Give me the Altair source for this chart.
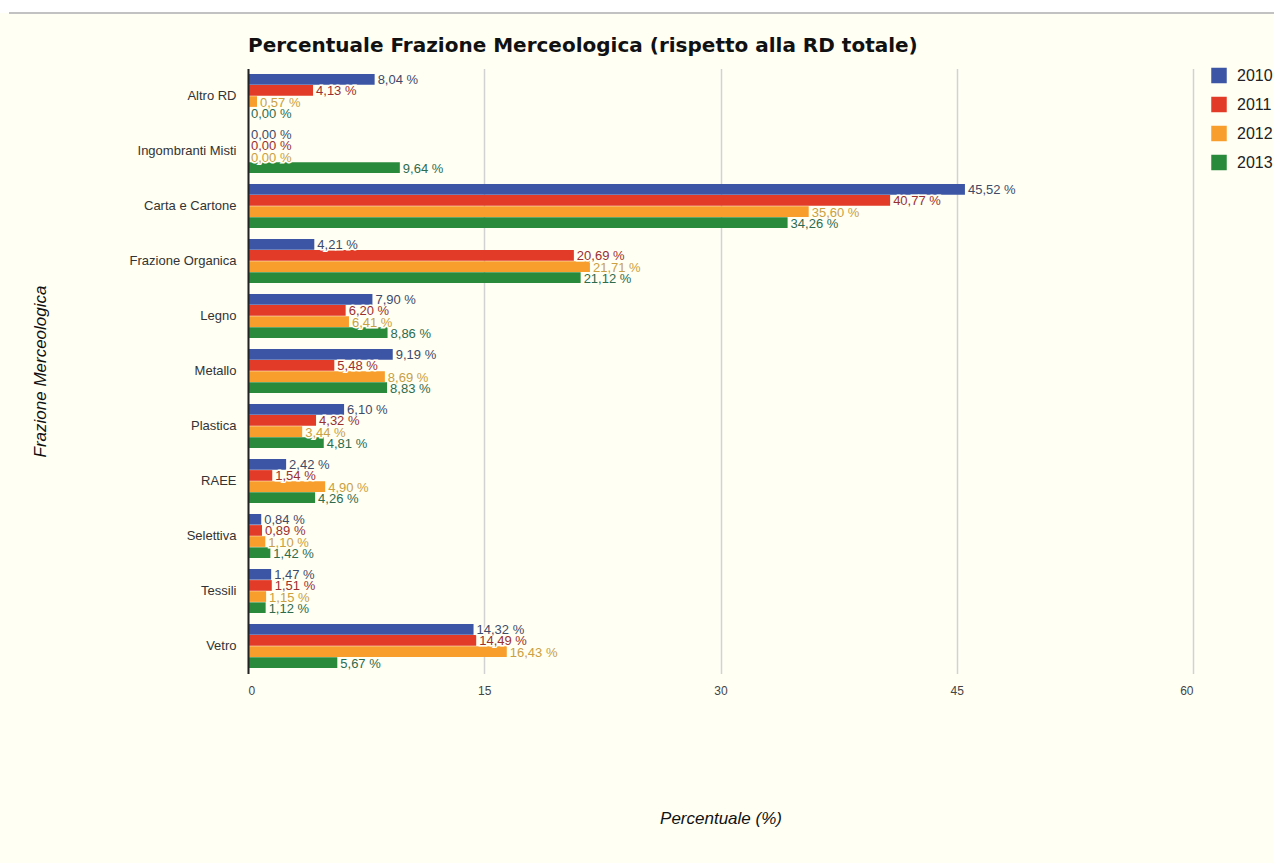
import altair as alt
import pandas as pd

categories = ["Altro RD", "Ingombranti Misti", "Carta e Cartone", "Frazione Organica",
              "Legno", "Metallo", "Plastica", "RAEE", "Selettiva", "Tessili", "Vetro"]
years = ["2010", "2011", "2012", "2013"]
v2010 = [8.04, 0.00, 45.52, 4.21, 7.90, 9.19, 6.10, 2.42, 0.84, 1.47, 14.32]
v2011 = [4.13, 0.00, 40.77, 20.69, 6.20, 5.48, 4.32, 1.54, 0.89, 1.51, 14.49]
v2012 = [0.57, 0.00, 35.60, 21.71, 6.41, 8.69, 3.44, 4.90, 1.10, 1.15, 16.43]
v2013 = [0.00, 9.64, 34.26, 21.12, 8.86, 8.83, 4.81, 4.26, 1.42, 1.12, 5.67]
x_ticks = [0, 15, 30, 45, 60]
title_text = "Percentuale Frazione Merceologica (rispetto alla RD totale)"

bar_colors = ["#3c55a5", "#e23b27", "#f89e2c", "#2a8a3c"]
text_colors = ["#3e4a68", "#9a3030", "#caa042", "#2e6b4c"]
BG = "#fffff4"

rows = []
for yr, vals in zip(years, [v2010, v2011, v2012, v2013]):
    for c, v in zip(categories, vals):
        rows.append({"cat": c, "year": yr, "val": v,
                     "label": f"{v:.2f}".replace(".", ",") + " %"})
df = pd.DataFrame(rows)

W, H = 945, 605
PL, PT = 248, 68.5

y_enc = alt.Y("cat:N", sort=categories,
              scale=alt.Scale(paddingInner=0.2, paddingOuter=0.1),
              axis=alt.Axis(title="Frazione Merceologica", titleFontStyle="italic",
                            titleFont="Liberation Sans", titleFontSize=17,
                            titleFontWeight="normal", titleColor="#111",
                            titleX=-208, titleY=H / 2, titleAngle=-90,
                            titleBaseline="middle", titleAlign="center",
                            labelFont="Liberation Sans", labelFontSize=13,
                            labelColor="#333", labelPadding=12, ticks=False,
                            domainColor="#222", domainWidth=2, grid=False,
                            zindex=1))
yoff = alt.YOffset("year:N", sort=years, scale=alt.Scale(paddingInner=0.04))
x_enc = alt.X("val:Q", scale=alt.Scale(domain=[0, 60], nice=False),
              axis=alt.Axis(values=x_ticks, title="Percentuale (%)",
                            titleFontStyle="italic", titleFont="Liberation Sans",
                            titleFontSize=17, titleFontWeight="normal",
                            titleColor="#111", titleY=145, titleBaseline="middle",
                            labelFont="Liberation Sans", labelFontSize=12,
                            labelColor="#444", labelPadding=12, ticks=False,
                            domain=False, grid=True, gridColor="#d2d2d2",
                            gridWidth=1.5))

base = alt.Chart(df)

bars = base.mark_bar(height={"band": 1}).encode(
    x=x_enc, y=y_enc, yOffset=yoff,
    color=alt.Color("year:N", sort=years,
                    scale=alt.Scale(domain=years, range=bar_colors),
                    legend=alt.Legend(title=None, orient="none", legendX=963,
                                      legendY=-1, symbolType="square",
                                      symbolSize=240, symbolStrokeWidth=0,
                                      labelFont="Liberation Sans",
                                      labelFontSize=16, labelColor="#222",
                                      rowPadding=13, labelOffset=10)),
)

halo = base.mark_text(align="left", baseline="middle", dx=3, dy=1,
                      font="Liberation Sans", fontSize=13, stroke=BG,
                      strokeWidth=3, fill=BG).encode(
    x="val:Q", y=alt.Y("cat:N", sort=categories), yOffset=alt.YOffset("year:N", sort=years),
    text="label:N")

labels = base.mark_text(align="left", baseline="middle", dx=3, dy=1,
                        font="Liberation Sans", fontSize=13).encode(
    x="val:Q", y=alt.Y("cat:N", sort=categories), yOffset=alt.YOffset("year:N", sort=years),
    text="label:N",
    fill=alt.Fill("year:N", sort=years,
                  scale=alt.Scale(domain=years, range=text_colors), legend=None))

blank = alt.Chart(alt.Data(values=[{"t": title_text}]))
top_white = blank.mark_rect(color="white").encode(
    x=alt.value(-PL), x2=alt.value(1274 - PL),
    y=alt.value(-PT), y2=alt.value(13 - PT))
top_line = blank.mark_rule(color="#c2c2c2", strokeWidth=2).encode(
    x=alt.value(9 - PL), x2=alt.value(1274 - PL), y=alt.value(13 - PT))
title = blank.mark_text(align="left", baseline="alphabetic", font="DejaVu Sans",
                        fontSize=20, fontWeight="bold", color="#111").encode(
    x=alt.value(0), y=alt.value(52 - PT), text="t:N")

chart = alt.layer(top_white, top_line, bars, halo, labels, title).resolve_scale(
    color="independent", fill="independent"
).properties(
    width=W, height=H,
    autosize=alt.AutoSizeParams(type="none"),
    padding={"left": PL, "top": PT, "right": 1274 - PL - W, "bottom": 863 - PT - H},
    background=BG,
).configure_view(stroke=None)

chart.save("out.html", embed_options={"renderer": "svg", "actions": False})
